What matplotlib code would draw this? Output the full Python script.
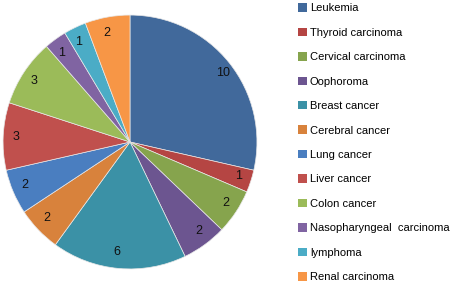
import matplotlib.pyplot as plt
from matplotlib.patches import Patch

labels = ['Leukemia', 'Thyroid carcinoma', 'Cervical carcinoma', 'Oophoroma',
          'Breast cancer', 'Cerebral cancer', 'Lung cancer', 'Liver cancer',
          'Colon cancer', 'Nasopharyngeal  carcinoma', 'lymphoma', 'Renal carcinoma']
values = [10, 1, 2, 2, 6, 2, 2, 3, 3, 1, 1, 2]
colors = ['#41699B', '#B54543', '#86A44D', '#6C5590', '#3B91A6', '#D8823C',
          '#4A7EC0', '#C0504D', '#9BBB59', '#8064A2', '#4BACC6', '#F79646']

plt.rcParams['font.family'] = ['Liberation Sans', 'DejaVu Sans']

fig = plt.figure(figsize=(4.61, 2.84), dpi=100)
ax = fig.add_axes([0.0065, 0.053, 0.551, 0.894])

wedges, texts = ax.pie(values, colors=colors, startangle=90, counterclock=False,
                       labels=[str(v) for v in values], labeldistance=0.87,
                       wedgeprops=dict(edgecolor='#e8e8e8', linewidth=0.5),
                       textprops=dict(fontsize=9, color='#111111'))
ax.set_xlim(-1, 1)
ax.set_ylim(-1, 1)
ax.set_aspect('equal')

handles = [Patch(facecolor=c, edgecolor='none') for c in colors]
fig.legend(handles, labels, loc='upper left', bbox_to_anchor=(0.625, 1.024),
           frameon=False, fontsize=8, labelspacing=1.29,
           handlelength=0.8, handleheight=0.8, handletextpad=0.25)

fig.savefig('out.png', dpi=100)
